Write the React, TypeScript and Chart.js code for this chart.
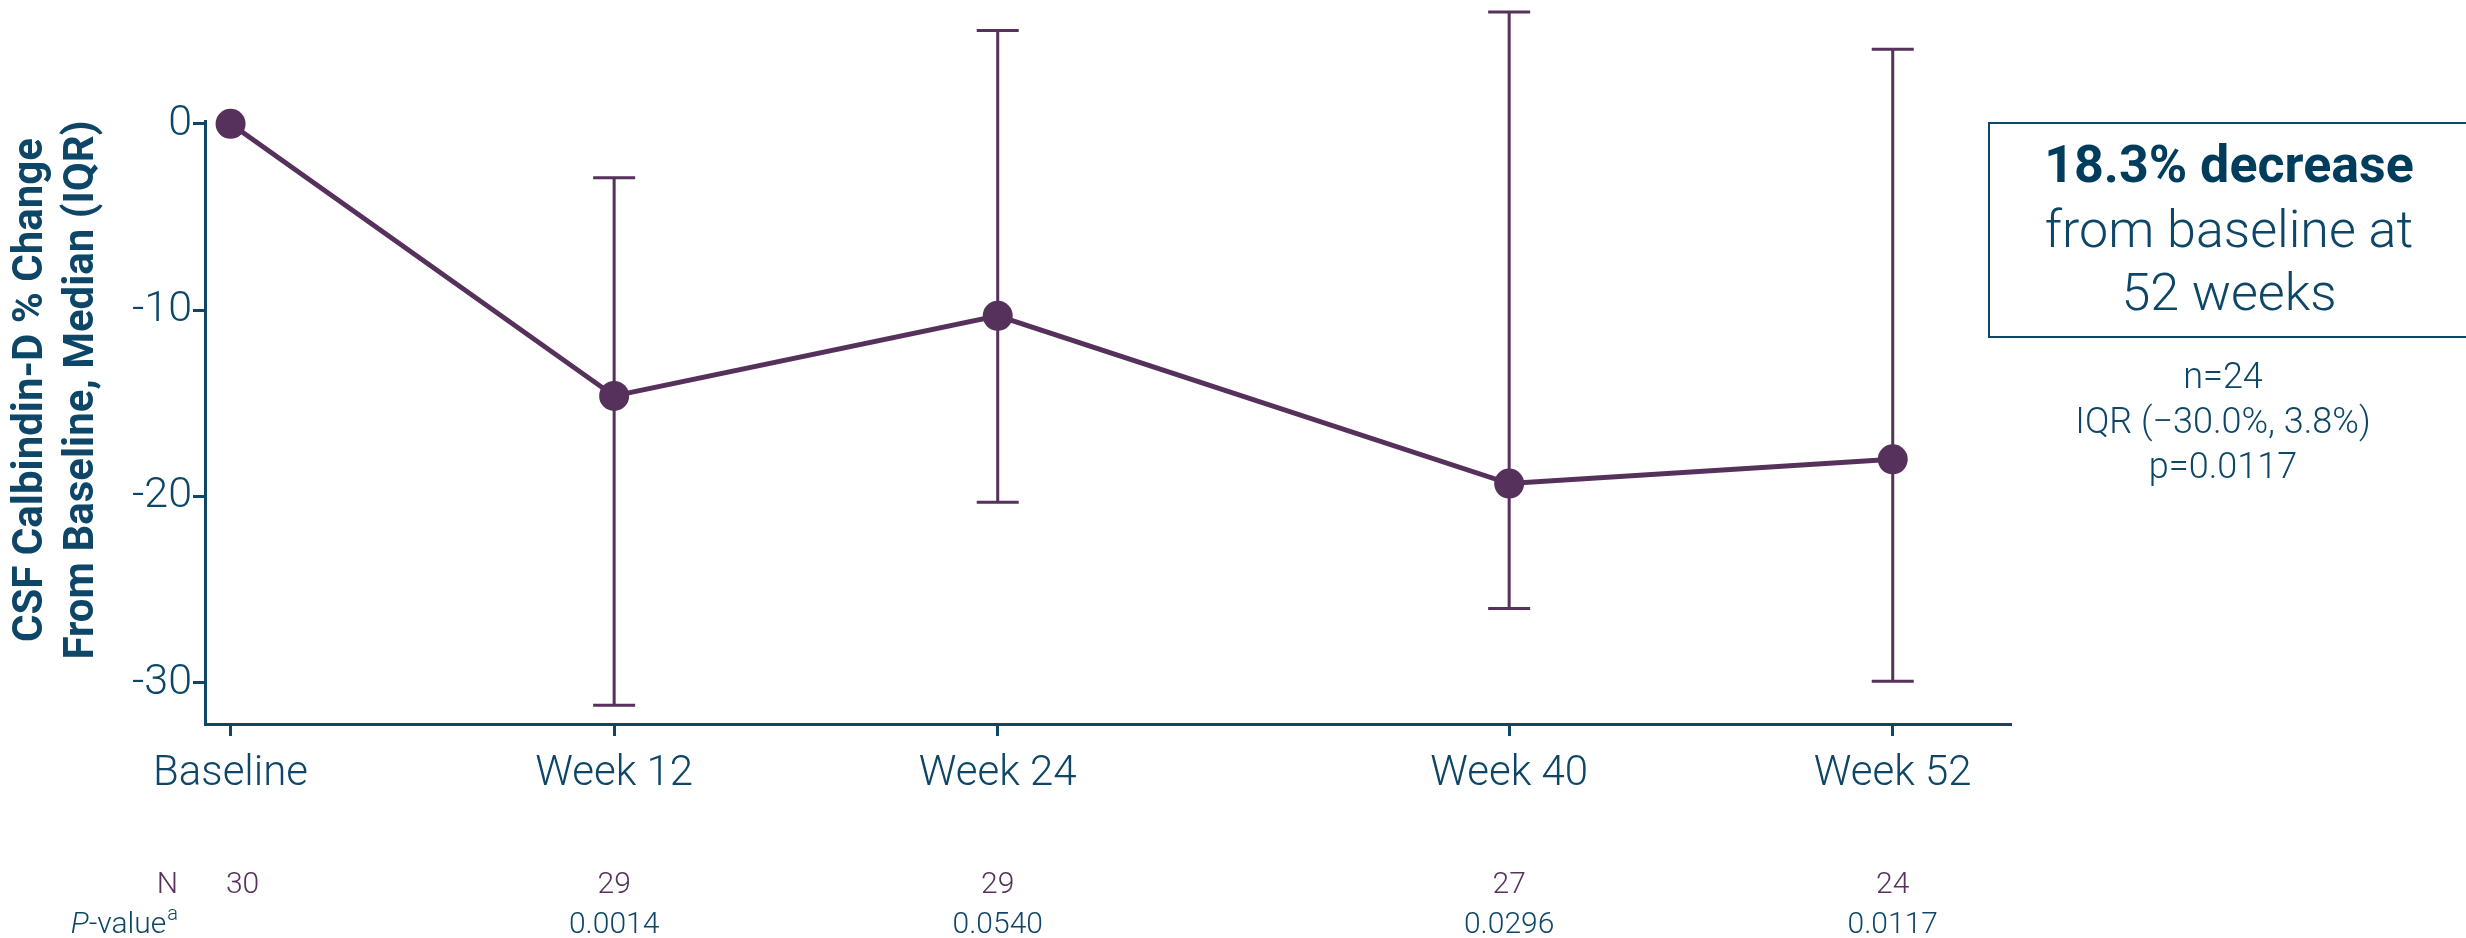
import React, { useEffect, useRef } from "react";
import { Chart, registerables } from "chart.js";

Chart.register(...registerables);

// ---------- data ----------
const CATEGORIES = ["Baseline", "Week 12", "Week 24", "Week 40", "Week 52"];
const WEEKS = [0, 12, 24, 40, 52];
const MEDIAN = [0, -14.6, -10.3, -19.3, -18.0];
const IQR_LOW = [null, -31.2, -20.3, -26.0, -29.9];
const IQR_HIGH = [null, -2.9, 5.0, 6.0, 4.0];
const Y_TICKS = [0, -10, -20, -30];
const N_VALUES = ["30", "29", "29", "27", "24"];
const P_VALUES = ["", "0.0014", "0.0540", "0.0296", "0.0117"];
const Y_TITLE = ["CSF Calbindin-D % Change", "From Baseline, Median (IQR)"];
const BOX_BOLD = "18.3% decrease";
const BOX_LINES = ["from baseline at", "52 weeks"];
const NOTE_LINES = ["n=24", "IQR (\u221230.0%, 3.8%)", "p=0.0117"];

// ---------- styles ----------
const TEAL = "#0d4667";
const DARK_TEAL = "#003d5c";
const PURPLE = "#55315b";
const FONT = "Roboto";

const errorBarPlugin = {
  id: "errorBars",
  beforeDatasetsDraw(chart: any) {
    const { ctx, scales } = chart;
    const xs = scales.x;
    const ys = scales.y;
    ctx.save();
    ctx.strokeStyle = PURPLE;
    ctx.lineWidth = 3;
    for (let i = 0; i < WEEKS.length; i++) {
      const lo = IQR_LOW[i];
      const hi = IQR_HIGH[i];
      if (lo === null || hi === null) continue;
      const x = xs.getPixelForValue(WEEKS[i]);
      const yl = ys.getPixelForValue(lo);
      const yh = ys.getPixelForValue(hi);
      const cap = 21;
      ctx.beginPath();
      ctx.moveTo(x, yl);
      ctx.lineTo(x, yh);
      ctx.moveTo(x - cap, yl);
      ctx.lineTo(x + cap, yl);
      ctx.moveTo(x - cap, yh);
      ctx.lineTo(x + cap, yh);
      ctx.stroke();
    }
    ctx.restore();
  },
};

const annotationsPlugin = {
  id: "annotations",
  afterDraw(chart: any) {
    const { ctx, scales } = chart;
    const xs = scales.x;
    ctx.save();

    // Y-axis title (two rotated lines)
    ctx.fillStyle = TEAL;
    ctx.font = `bold 42px ${FONT}`;
    ctx.textAlign = "center";
    ctx.textBaseline = "middle";
    const titleX = [31, 82];
    for (let i = 0; i < Y_TITLE.length; i++) {
      ctx.save();
      ctx.translate(titleX[i], 390);
      ctx.rotate(-Math.PI / 2);
      ctx.fillText(Y_TITLE[i], 0, 0);
      ctx.restore();
    }

    // N row and P-value row
    ctx.textBaseline = "alphabetic";
    ctx.font = `300 30px ${FONT}`;
    ctx.fillStyle = PURPLE;
    ctx.textAlign = "right";
    ctx.fillText("N", 178, 893);
    ctx.textAlign = "center";
    for (let i = 0; i < WEEKS.length; i++) {
      const x = xs.getPixelForValue(WEEKS[i]) + (i === 0 ? 12 : 0);
      ctx.fillStyle = PURPLE;
      ctx.font = `300 30px ${FONT}`;
      ctx.fillText(N_VALUES[i], x, 893);
      if (P_VALUES[i]) {
        ctx.fillStyle = TEAL;
        ctx.fillText(P_VALUES[i], x, 933);
      }
    }
    // "P-value^a" label
    ctx.fillStyle = TEAL;
    ctx.textAlign = "left";
    ctx.font = `italic 300 30px ${FONT}`;
    const wP = ctx.measureText("P").width;
    ctx.font = `300 30px ${FONT}`;
    const wV = ctx.measureText("-value").width;
    ctx.font = `300 20px ${FONT}`;
    const wA = ctx.measureText("a").width;
    let px = 178 - (wP + wV + wA + 1);
    ctx.font = `italic 300 30px ${FONT}`;
    ctx.fillText("P", px, 933);
    px += wP;
    ctx.font = `300 30px ${FONT}`;
    ctx.fillText("-value", px, 933);
    px += wV + 1;
    ctx.font = `300 20px ${FONT}`;
    ctx.fillText("a", px, 920);

    // Summary box
    ctx.strokeStyle = TEAL;
    ctx.lineWidth = 2;
    ctx.strokeRect(1989, 123, 500, 214);
    ctx.textAlign = "center";
    ctx.fillStyle = DARK_TEAL;
    ctx.font = `bold 52px ${FONT}`;
    ctx.fillText(BOX_BOLD, 2229, 182);
    ctx.fillStyle = TEAL;
    ctx.font = `300 52px ${FONT}`;
    ctx.fillText(BOX_LINES[0], 2229, 247);
    ctx.fillText(BOX_LINES[1], 2229, 310);

    // Notes under the box
    ctx.font = `300 36px ${FONT}`;
    const noteY = [388, 433, 478];
    for (let i = 0; i < NOTE_LINES.length; i++) {
      ctx.fillText(NOTE_LINES[i], 2223, noteY[i]);
    }
    ctx.restore();
  },
};

export default function App() {
  const canvasRef = useRef<HTMLCanvasElement | null>(null);

  useEffect(() => {
    document.body.style.margin = "0";
    const canvas = canvasRef.current;
    if (!canvas) return;
    const chart = new Chart(canvas, {
      type: "line",
      data: {
        datasets: [
          {
            data: WEEKS.map((w, i) => ({ x: w, y: MEDIAN[i] })),
            borderColor: PURPLE,
            backgroundColor: PURPLE,
            borderWidth: 5,
            pointRadius: 15,
            pointHoverRadius: 15,
            pointBackgroundColor: PURPLE,
            pointBorderColor: PURPLE,
            pointBorderWidth: 0,
            tension: 0,
            clip: false as any,
          },
        ],
      },
      options: {
        animation: false,
        responsive: false,
        devicePixelRatio: 1,
        events: [],
        layout: { padding: { left: 0, right: 2466 - 2011, top: 121, bottom: 0 } },
        plugins: {
          legend: { display: false },
          tooltip: { enabled: false },
          title: { display: false },
        },
        scales: {
          x: {
            type: "linear",
            min: -0.8,
            max: 55.7,
            afterBuildTicks: (scale: any) => {
              scale.ticks = WEEKS.map((w) => ({ value: w }));
            },
            afterFit: (scale: any) => {
              scale.height = 938 - 724;
            },
            ticks: {
              autoSkip: false,
              maxRotation: 0,
              minRotation: 0,
              padding: 13,
              color: TEAL,
              font: { family: FONT, size: 42, weight: "300" as any },
              callback: (v: any) => {
                const idx = WEEKS.indexOf(Number(v));
                return idx >= 0 ? CATEGORIES[idx] : "";
              },
            },
            grid: {
              display: true,
              drawOnChartArea: false,
              drawTicks: true,
              tickLength: 12,
              tickWidth: 3,
              tickColor: TEAL,
            },
            border: { display: true, color: TEAL, width: 3 },
          },
          y: {
            type: "linear",
            min: -32.2,
            max: 0.15,
            afterBuildTicks: (scale: any) => {
              scale.ticks = Y_TICKS.map((v) => ({ value: v }));
            },
            afterFit: (scale: any) => {
              scale.width = 205;
            },
            ticks: {
              padding: 1,
              color: TEAL,
              font: { family: FONT, size: 43, weight: "300" as any },
              callback: (v: any) => String(v),
            },
            grid: {
              display: true,
              drawOnChartArea: false,
              drawTicks: true,
              tickLength: 12,
              tickWidth: 3,
              tickColor: TEAL,
            },
            border: { display: true, color: TEAL, width: 3 },
          },
        },
      },
      plugins: [errorBarPlugin, annotationsPlugin],
    });
    return () => chart.destroy();
  }, []);

  return (
    <div style={{ position: "absolute", left: 0, top: 0, width: 2466, height: 938, background: "#ffffff" }}>
      <canvas ref={canvasRef} width={2466} height={938} style={{ display: "block", width: 2466, height: 938 }} />
    </div>
  );
}
